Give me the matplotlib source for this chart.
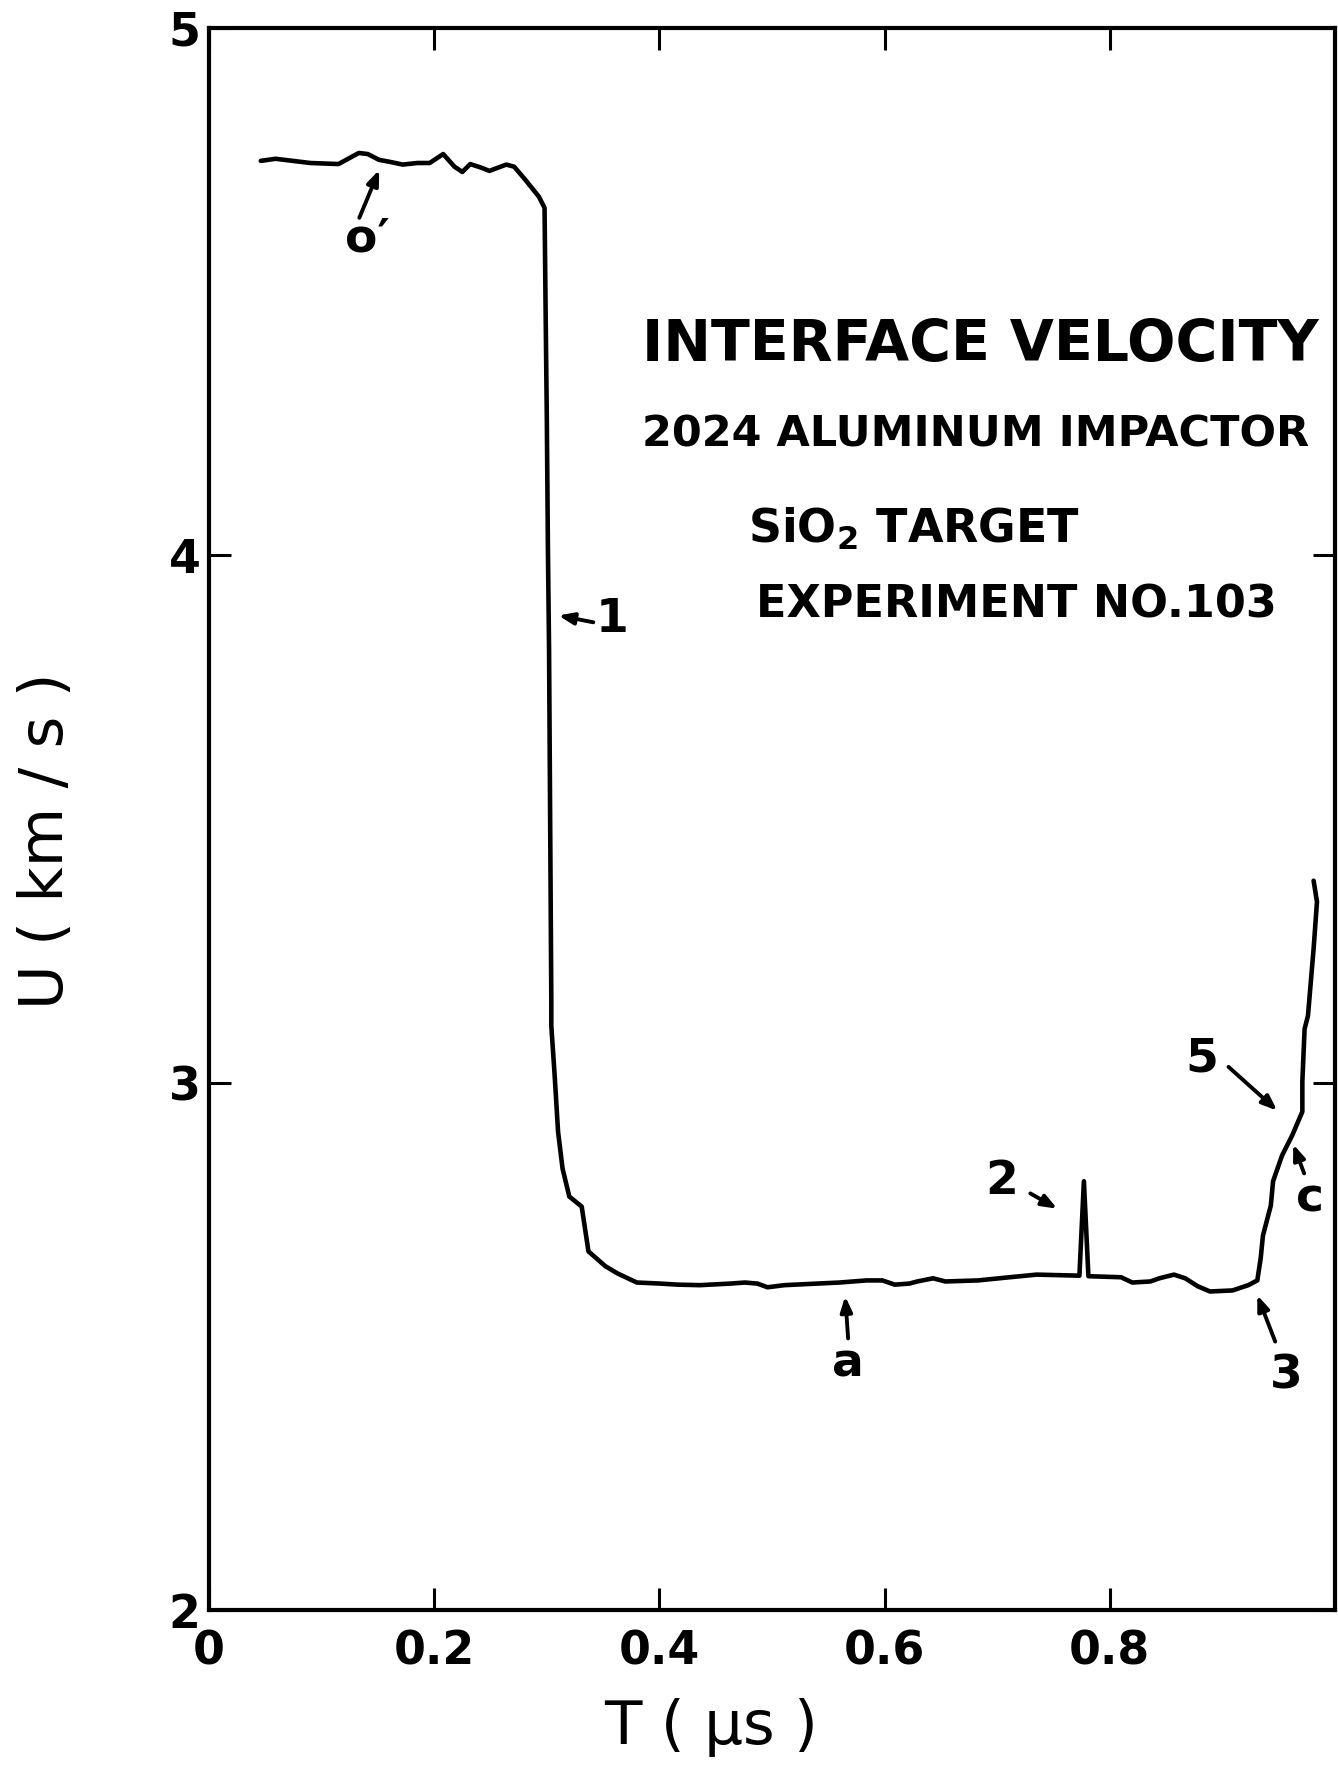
import numpy as np
import matplotlib
matplotlib.use("Agg")
import matplotlib.pyplot as plt

# interface velocity trace
t_us = [0.046, 0.059, 0.090, 0.115, 0.133, 0.141, 0.151, 0.161, 0.172, 0.185,
        0.196, 0.208, 0.218, 0.225, 0.232, 0.242, 0.249, 0.264, 0.271, 0.281,
        0.293, 0.298, 0.299, 0.300, 0.301, 0.302, 0.304, 0.304, 0.307, 0.310,
        0.314, 0.320, 0.331, 0.337, 0.352, 0.363, 0.380, 0.401, 0.416, 0.436,
        0.463, 0.476, 0.487, 0.496, 0.511, 0.540, 0.560, 0.584, 0.598, 0.609,
        0.622, 0.629, 0.643, 0.654, 0.683, 0.711, 0.735, 0.773, 0.777, 0.781,
        0.810, 0.820, 0.836, 0.844, 0.857, 0.867, 0.878, 0.889, 0.909, 0.923,
        0.931, 0.934, 0.936, 0.943, 0.945, 0.953, 0.962, 0.971, 0.971, 0.973,
        0.976, 0.981, 0.984, 0.981]
u_kms = [4.748, 4.752, 4.744, 4.742, 4.763, 4.761, 4.750, 4.746, 4.741, 4.744,
         4.744, 4.761, 4.737, 4.727, 4.742, 4.735, 4.729, 4.741, 4.737, 4.712,
         4.680, 4.659, 4.453, 4.263, 4.011, 3.822, 3.159, 3.108, 3.013, 2.907,
         2.837, 2.784, 2.765, 2.680, 2.652, 2.638, 2.621, 2.619, 2.617, 2.616,
         2.619, 2.621, 2.619, 2.612, 2.616, 2.619, 2.621, 2.625, 2.625, 2.617,
         2.619, 2.623, 2.629, 2.623, 2.625, 2.631, 2.636, 2.634, 2.813, 2.633,
         2.631, 2.621, 2.623, 2.629, 2.636, 2.629, 2.614, 2.604, 2.606, 2.616,
         2.625, 2.667, 2.710, 2.767, 2.813, 2.862, 2.900, 2.945, 3.002, 3.102,
         3.127, 3.254, 3.343, 3.383]

xticks = [0, 0.2, 0.4, 0.6, 0.8]
xticklabels = ["0", "0.2", "0.4", "0.6", "0.8"]
yticks = [2, 3, 4, 5]
yticklabels = ["2", "3", "4", "5"]

# labelled points: text, text position, arrow tail, arrow head
marks = [("o′", (0.141, 4.600), (0.1335, 4.640), (0.1512, 4.731)),
         ("1", (0.358, 3.879), (0.3413, 3.873), (0.3103, 3.886)),
         ("2", (0.704, 2.812), (0.7294, 2.790), (0.7533, 2.761)),
         ("a", (0.567, 2.466), (0.5676, 2.515), (0.5650, 2.595)),
         ("3", (0.957, 2.443), (0.9469, 2.509), (0.9310, 2.597)),
         ("5", (0.882, 3.045), (0.9054, 3.030), (0.9487, 2.947)),
         ("c", (0.978, 2.780), (0.9726, 2.828), (0.9629, 2.883))]

plt.rcParams['font.family'] = ['DejaVu Sans']
plt.rcParams['font.weight'] = 'bold'

fig = plt.figure(figsize=(13.38, 17.71), dpi=100)
ax = fig.add_axes([209/1338, 1 - 1610/1771, 1126/1338, 1582/1771])

ax.plot(t_us, u_kms, 'k', lw=3.3, solid_joinstyle='round', solid_capstyle='round')

for lab, tp, tail, head in marks:
    ax.annotate("", xy=head, xytext=tail,
                arrowprops=dict(arrowstyle='-|>,head_length=0.9,head_width=0.35',
                                color='k', lw=2.8, shrinkA=0, shrinkB=0))
    ax.text(tp[0], tp[1], lab, fontsize=34, ha='center', va='center')

ax.text(0.3846, 4.398, "INTERFACE VELOCITY", fontsize=41, ha='left', va='center')
ax.text(0.3846, 4.229, "2024 ALUMINUM IMPACTOR", fontsize=31, ha='left', va='center')
ax.text(0.479, 4.049, "SiO$_\\mathbf{2}$ TARGET", fontsize=33, ha='left', va='center')
ax.text(0.486, 3.905, "EXPERIMENT NO.103", fontsize=32, ha='left', va='center')

ax.set_xlim(0, 1.0)
ax.set_ylim(2, 5)
ax.set_xticks(xticks)
ax.set_xticklabels(xticklabels)
ax.set_yticks(yticks)
ax.set_yticklabels(yticklabels)
ax.tick_params(direction='in', length=16, width=2.2, top=True, right=True,
               labelsize=33)
ax.tick_params(axis='x', pad=14)
ax.tick_params(axis='y', pad=6)
for s in ax.spines.values():
    s.set_linewidth(3)

ax.set_xlabel("T ( μs )", fontsize=44)
ax.set_ylabel("U ( km / s )", fontsize=44)
ax.xaxis.set_label_coords(0.446, -0.074)
ax.xaxis.label.set_va('center')
ax.yaxis.set_label_coords(-0.1445, 0.486)
ax.yaxis.label.set_va('center')

fig.savefig("out.png", dpi=100)
